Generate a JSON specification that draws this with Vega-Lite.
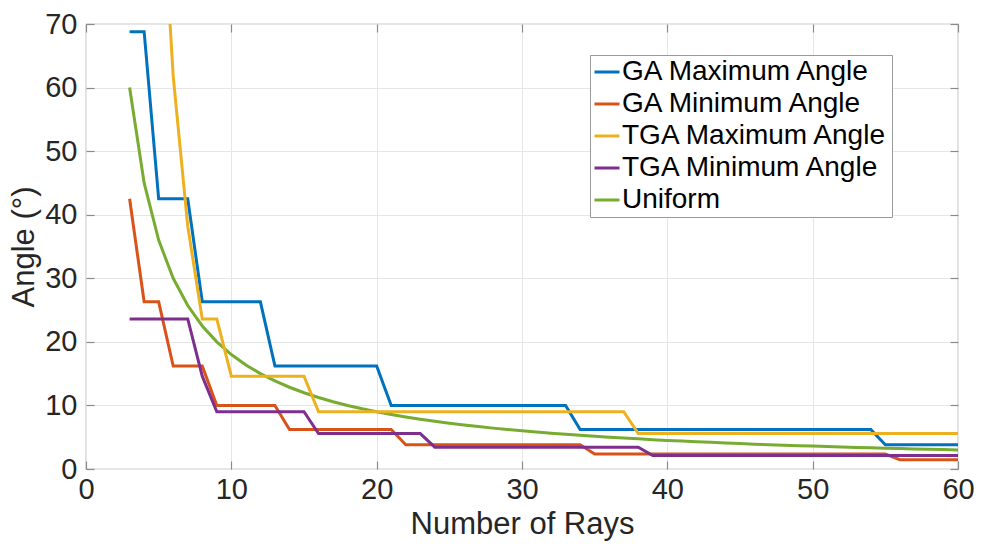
{
  "$schema": "https://vega.github.io/schema/vega-lite/v6.json",
  "width": 872,
  "height": 445,
  "autosize": {"type": "none"},
  "padding": {"left": 86, "top": 24, "right": 23, "bottom": 79},
  "background": "white",
  "config": {
    "font": "Liberation Sans",
    "view": {"stroke": "#9a9a9a", "strokeWidth": 1.2},
    "axis": {
      "domain": false,
      "grid": true,
      "gridColor": "#e6e6e6",
      "gridWidth": 1,
      "tickColor": "#8a8a8a",
      "tickSize": -8,
      "tickWidth": 1.2,
      "labelFlush": false,
      "labelColor": "#262626",
      "titleColor": "#262626",
      "labelFont": "Liberation Sans",
      "titleFont": "Liberation Sans",
      "labelFontSize": 29,
      "titleFontSize": 31,
      "titleFontWeight": "normal"
    }
  },
  "data": {
    "values": [
      {"N": 3, "GA Maximum Angle": 68.8, "GA Minimum Angle": 42.5, "TGA Maximum Angle": null, "TGA Minimum Angle": 23.6, "Uniform": 60},
      {"N": 4, "GA Maximum Angle": 68.8, "GA Minimum Angle": 26.3, "TGA Maximum Angle": null, "TGA Minimum Angle": 23.6, "Uniform": 45},
      {"N": 5, "GA Maximum Angle": 42.5, "GA Minimum Angle": 26.3, "TGA Maximum Angle": 100, "TGA Minimum Angle": 23.6, "Uniform": 36},
      {"N": 6, "GA Maximum Angle": 42.5, "GA Minimum Angle": 16.2, "TGA Maximum Angle": 61.8, "TGA Minimum Angle": 23.6, "Uniform": 30},
      {"N": 7, "GA Maximum Angle": 42.5, "GA Minimum Angle": 16.2, "TGA Maximum Angle": 38.2, "TGA Minimum Angle": 23.6, "Uniform": 25.71},
      {"N": 8, "GA Maximum Angle": 26.3, "GA Minimum Angle": 16.2, "TGA Maximum Angle": 23.6, "TGA Minimum Angle": 14.6, "Uniform": 22.5},
      {"N": 9, "GA Maximum Angle": 26.3, "GA Minimum Angle": 10.0, "TGA Maximum Angle": 23.6, "TGA Minimum Angle": 9.0, "Uniform": 20},
      {"N": 10, "GA Maximum Angle": 26.3, "GA Minimum Angle": 10.0, "TGA Maximum Angle": 14.6, "TGA Minimum Angle": 9.0, "Uniform": 18},
      {"N": 11, "GA Maximum Angle": 26.3, "GA Minimum Angle": 10.0, "TGA Maximum Angle": 14.6, "TGA Minimum Angle": 9.0, "Uniform": 16.36},
      {"N": 12, "GA Maximum Angle": 26.3, "GA Minimum Angle": 10.0, "TGA Maximum Angle": 14.6, "TGA Minimum Angle": 9.0, "Uniform": 15},
      {"N": 13, "GA Maximum Angle": 16.2, "GA Minimum Angle": 10.0, "TGA Maximum Angle": 14.6, "TGA Minimum Angle": 9.0, "Uniform": 13.85},
      {"N": 14, "GA Maximum Angle": 16.2, "GA Minimum Angle": 6.2, "TGA Maximum Angle": 14.6, "TGA Minimum Angle": 9.0, "Uniform": 12.86},
      {"N": 15, "GA Maximum Angle": 16.2, "GA Minimum Angle": 6.2, "TGA Maximum Angle": 14.6, "TGA Minimum Angle": 9.0, "Uniform": 12},
      {"N": 16, "GA Maximum Angle": 16.2, "GA Minimum Angle": 6.2, "TGA Maximum Angle": 9.0, "TGA Minimum Angle": 5.57, "Uniform": 11.25},
      {"N": 17, "GA Maximum Angle": 16.2, "GA Minimum Angle": 6.2, "TGA Maximum Angle": 9.0, "TGA Minimum Angle": 5.57, "Uniform": 10.59},
      {"N": 18, "GA Maximum Angle": 16.2, "GA Minimum Angle": 6.2, "TGA Maximum Angle": 9.0, "TGA Minimum Angle": 5.57, "Uniform": 10},
      {"N": 19, "GA Maximum Angle": 16.2, "GA Minimum Angle": 6.2, "TGA Maximum Angle": 9.0, "TGA Minimum Angle": 5.57, "Uniform": 9.47},
      {"N": 20, "GA Maximum Angle": 16.2, "GA Minimum Angle": 6.2, "TGA Maximum Angle": 9.0, "TGA Minimum Angle": 5.57, "Uniform": 9},
      {"N": 21, "GA Maximum Angle": 10.0, "GA Minimum Angle": 6.2, "TGA Maximum Angle": 9.0, "TGA Minimum Angle": 5.57, "Uniform": 8.57},
      {"N": 22, "GA Maximum Angle": 10.0, "GA Minimum Angle": 3.8, "TGA Maximum Angle": 9.0, "TGA Minimum Angle": 5.57, "Uniform": 8.18},
      {"N": 23, "GA Maximum Angle": 10.0, "GA Minimum Angle": 3.8, "TGA Maximum Angle": 9.0, "TGA Minimum Angle": 5.57, "Uniform": 7.83},
      {"N": 24, "GA Maximum Angle": 10.0, "GA Minimum Angle": 3.8, "TGA Maximum Angle": 9.0, "TGA Minimum Angle": 3.44, "Uniform": 7.5},
      {"N": 25, "GA Maximum Angle": 10.0, "GA Minimum Angle": 3.8, "TGA Maximum Angle": 9.0, "TGA Minimum Angle": 3.44, "Uniform": 7.2},
      {"N": 26, "GA Maximum Angle": 10.0, "GA Minimum Angle": 3.8, "TGA Maximum Angle": 9.0, "TGA Minimum Angle": 3.44, "Uniform": 6.92},
      {"N": 27, "GA Maximum Angle": 10.0, "GA Minimum Angle": 3.8, "TGA Maximum Angle": 9.0, "TGA Minimum Angle": 3.44, "Uniform": 6.67},
      {"N": 28, "GA Maximum Angle": 10.0, "GA Minimum Angle": 3.8, "TGA Maximum Angle": 9.0, "TGA Minimum Angle": 3.44, "Uniform": 6.43},
      {"N": 29, "GA Maximum Angle": 10.0, "GA Minimum Angle": 3.8, "TGA Maximum Angle": 9.0, "TGA Minimum Angle": 3.44, "Uniform": 6.21},
      {"N": 30, "GA Maximum Angle": 10.0, "GA Minimum Angle": 3.8, "TGA Maximum Angle": 9.0, "TGA Minimum Angle": 3.44, "Uniform": 6},
      {"N": 31, "GA Maximum Angle": 10.0, "GA Minimum Angle": 3.8, "TGA Maximum Angle": 9.0, "TGA Minimum Angle": 3.44, "Uniform": 5.81},
      {"N": 32, "GA Maximum Angle": 10.0, "GA Minimum Angle": 3.8, "TGA Maximum Angle": 9.0, "TGA Minimum Angle": 3.44, "Uniform": 5.63},
      {"N": 33, "GA Maximum Angle": 10.0, "GA Minimum Angle": 3.8, "TGA Maximum Angle": 9.0, "TGA Minimum Angle": 3.44, "Uniform": 5.45},
      {"N": 34, "GA Maximum Angle": 6.2, "GA Minimum Angle": 3.8, "TGA Maximum Angle": 9.0, "TGA Minimum Angle": 3.44, "Uniform": 5.29},
      {"N": 35, "GA Maximum Angle": 6.2, "GA Minimum Angle": 2.36, "TGA Maximum Angle": 9.0, "TGA Minimum Angle": 3.44, "Uniform": 5.14},
      {"N": 36, "GA Maximum Angle": 6.2, "GA Minimum Angle": 2.36, "TGA Maximum Angle": 9.0, "TGA Minimum Angle": 3.44, "Uniform": 5},
      {"N": 37, "GA Maximum Angle": 6.2, "GA Minimum Angle": 2.36, "TGA Maximum Angle": 9.0, "TGA Minimum Angle": 3.44, "Uniform": 4.86},
      {"N": 38, "GA Maximum Angle": 6.2, "GA Minimum Angle": 2.36, "TGA Maximum Angle": 5.57, "TGA Minimum Angle": 3.44, "Uniform": 4.74},
      {"N": 39, "GA Maximum Angle": 6.2, "GA Minimum Angle": 2.36, "TGA Maximum Angle": 5.57, "TGA Minimum Angle": 2.13, "Uniform": 4.62},
      {"N": 40, "GA Maximum Angle": 6.2, "GA Minimum Angle": 2.36, "TGA Maximum Angle": 5.57, "TGA Minimum Angle": 2.13, "Uniform": 4.5},
      {"N": 41, "GA Maximum Angle": 6.2, "GA Minimum Angle": 2.36, "TGA Maximum Angle": 5.57, "TGA Minimum Angle": 2.13, "Uniform": 4.39},
      {"N": 42, "GA Maximum Angle": 6.2, "GA Minimum Angle": 2.36, "TGA Maximum Angle": 5.57, "TGA Minimum Angle": 2.13, "Uniform": 4.29},
      {"N": 43, "GA Maximum Angle": 6.2, "GA Minimum Angle": 2.36, "TGA Maximum Angle": 5.57, "TGA Minimum Angle": 2.13, "Uniform": 4.19},
      {"N": 44, "GA Maximum Angle": 6.2, "GA Minimum Angle": 2.36, "TGA Maximum Angle": 5.57, "TGA Minimum Angle": 2.13, "Uniform": 4.09},
      {"N": 45, "GA Maximum Angle": 6.2, "GA Minimum Angle": 2.36, "TGA Maximum Angle": 5.57, "TGA Minimum Angle": 2.13, "Uniform": 4},
      {"N": 46, "GA Maximum Angle": 6.2, "GA Minimum Angle": 2.36, "TGA Maximum Angle": 5.57, "TGA Minimum Angle": 2.13, "Uniform": 3.91},
      {"N": 47, "GA Maximum Angle": 6.2, "GA Minimum Angle": 2.36, "TGA Maximum Angle": 5.57, "TGA Minimum Angle": 2.13, "Uniform": 3.83},
      {"N": 48, "GA Maximum Angle": 6.2, "GA Minimum Angle": 2.36, "TGA Maximum Angle": 5.57, "TGA Minimum Angle": 2.13, "Uniform": 3.75},
      {"N": 49, "GA Maximum Angle": 6.2, "GA Minimum Angle": 2.36, "TGA Maximum Angle": 5.57, "TGA Minimum Angle": 2.13, "Uniform": 3.67},
      {"N": 50, "GA Maximum Angle": 6.2, "GA Minimum Angle": 2.36, "TGA Maximum Angle": 5.57, "TGA Minimum Angle": 2.13, "Uniform": 3.6},
      {"N": 51, "GA Maximum Angle": 6.2, "GA Minimum Angle": 2.36, "TGA Maximum Angle": 5.57, "TGA Minimum Angle": 2.13, "Uniform": 3.53},
      {"N": 52, "GA Maximum Angle": 6.2, "GA Minimum Angle": 2.36, "TGA Maximum Angle": 5.57, "TGA Minimum Angle": 2.13, "Uniform": 3.46},
      {"N": 53, "GA Maximum Angle": 6.2, "GA Minimum Angle": 2.36, "TGA Maximum Angle": 5.57, "TGA Minimum Angle": 2.13, "Uniform": 3.4},
      {"N": 54, "GA Maximum Angle": 6.2, "GA Minimum Angle": 2.36, "TGA Maximum Angle": 5.57, "TGA Minimum Angle": 2.13, "Uniform": 3.33},
      {"N": 55, "GA Maximum Angle": 3.8, "GA Minimum Angle": 2.36, "TGA Maximum Angle": 5.57, "TGA Minimum Angle": 2.13, "Uniform": 3.27},
      {"N": 56, "GA Maximum Angle": 3.8, "GA Minimum Angle": 1.46, "TGA Maximum Angle": 5.57, "TGA Minimum Angle": 2.13, "Uniform": 3.21},
      {"N": 57, "GA Maximum Angle": 3.8, "GA Minimum Angle": 1.46, "TGA Maximum Angle": 5.57, "TGA Minimum Angle": 2.13, "Uniform": 3.16},
      {"N": 58, "GA Maximum Angle": 3.8, "GA Minimum Angle": 1.46, "TGA Maximum Angle": 5.57, "TGA Minimum Angle": 2.13, "Uniform": 3.1},
      {"N": 59, "GA Maximum Angle": 3.8, "GA Minimum Angle": 1.46, "TGA Maximum Angle": 5.57, "TGA Minimum Angle": 2.13, "Uniform": 3.05},
      {"N": 60, "GA Maximum Angle": 3.8, "GA Minimum Angle": 1.46, "TGA Maximum Angle": 5.57, "TGA Minimum Angle": 2.13, "Uniform": 3}
    ]
  },
  "transform": [
    {"fold": ["GA Maximum Angle", "GA Minimum Angle", "TGA Maximum Angle", "TGA Minimum Angle", "Uniform"], "as": ["series", "angle"]},
    {"filter": "datum.angle != null"}
  ],
  "layer": [
    {
      "mark": {"type": "line", "strokeWidth": 3, "clip": true, "interpolate": "linear"},
      "encoding": {
        "x": {
          "field": "N", "type": "quantitative",
          "scale": {"domain": [0, 60], "nice": false, "zero": false},
          "axis": {"values": [0, 10, 20, 30, 40, 50, 60], "title": "Number of Rays", "labelPadding": 14, "titlePadding": 5, "orient": "bottom", "labelFlush": false}
        },
        "y": {
          "field": "angle", "type": "quantitative",
          "scale": {"domain": [0, 70], "nice": false},
          "axis": {"values": [0, 10, 20, 30, 40, 50, 60, 70], "title": "Angle (°)", "labelPadding": 17, "titlePadding": 4, "orient": "left", "labelFlush": false}
        },
        "color": {
          "field": "series", "type": "nominal",
          "scale": {
            "domain": ["GA Maximum Angle", "GA Minimum Angle", "TGA Maximum Angle", "TGA Minimum Angle", "Uniform"],
            "range": ["#0072BD", "#D95319", "#EDB120", "#7E2F8E", "#77AC30"]
          },
          "legend": {
            "title": null,
            "orient": "none",
            "legendX": 504,
            "legendY": 31,
            "symbolType": "stroke",
            "symbolSize": 625,
            "symbolStrokeWidth": 3,
            "labelFontSize": 28,
            "labelFont": "Liberation Sans",
            "labelColor": "#000000",
            "labelOffset": 1,
            "labelLimit": 400,
            "rowPadding": 4,
            "padding": 3,
            "strokeColor": "#9a9a9a",
            "fillColor": "white"
          }
        }
      }
    },
    {
      "mark": {"type": "line", "opacity": 0},
      "encoding": {
        "x": {
          "field": "N", "type": "quantitative",
          "scale": {"domain": [0, 60], "nice": false, "zero": false},
          "axis": {"orient": "top", "values": [0, 10, 20, 30, 40, 50, 60], "labels": false, "grid": false, "title": null}
        },
        "y": {
          "field": "angle", "type": "quantitative",
          "scale": {"domain": [0, 70], "nice": false},
          "axis": {"orient": "right", "values": [0, 10, 20, 30, 40, 50, 60, 70], "labels": false, "grid": false, "title": null}
        }
      }
    }
  ],
  "resolve": {"axis": {"x": "independent", "y": "independent"}}
}
